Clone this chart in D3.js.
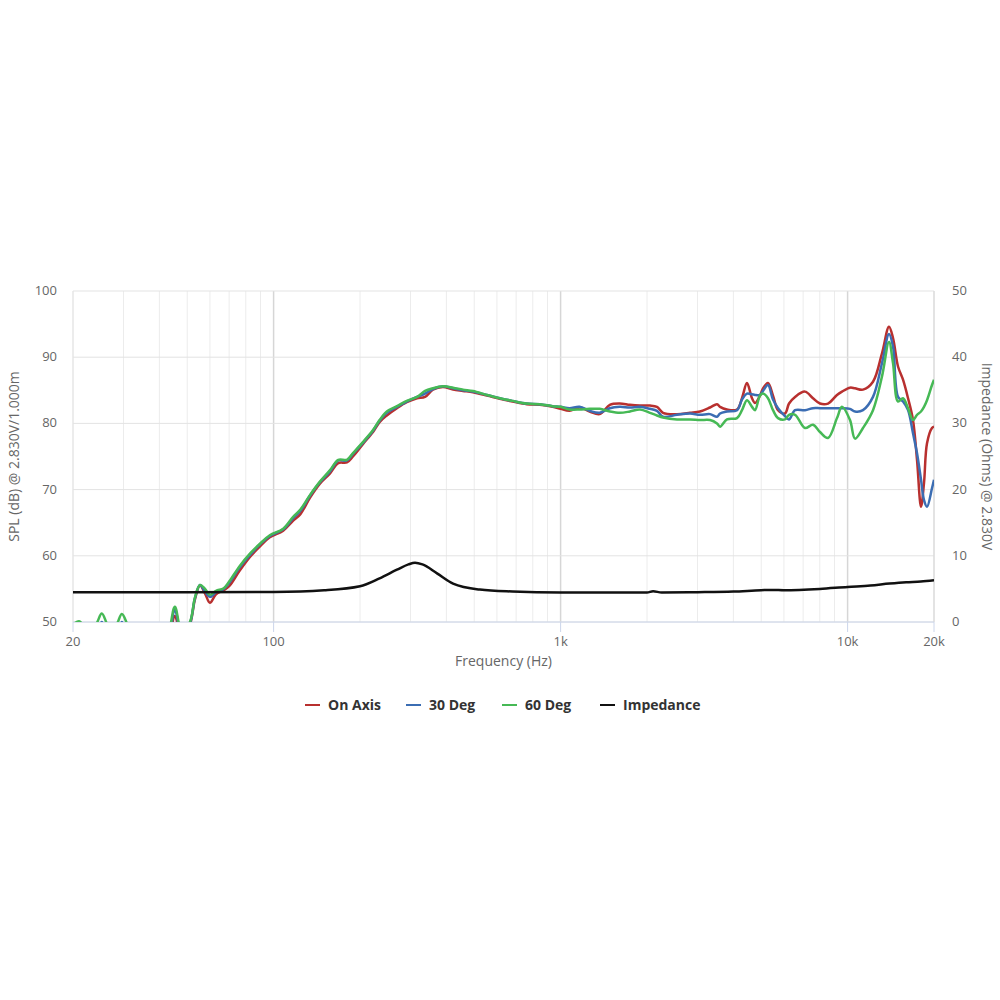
<!DOCTYPE html>
<html>
<head>
  <meta charset="utf-8">
  <title>Frequency Response</title>
  <script src="https://cdnjs.cloudflare.com/ajax/libs/d3/7.8.5/d3.min.js"></script>
  <style>
    body {
      margin: 0;
      background: #fff;
      font-family: "Open Sans", Arial, sans-serif;
    }
    .tick-label {
      fill: #666;
      font-size: 13px;
    }
    .axis-title {
      fill: #666;
      font-size: 14px;
    }
    .legend-text {
      fill: #333;
      font-size: 14px;
      font-weight: bold;
    }
  </style>
</head>
<body>
  <div id="chart"></div>
  <script>
    // SPL frequencies (Hz)
    const freqs = [20, 21, 22.2, 23.9, 25.2, 26.7, 28.2, 29.6, 31.1, 34.2, 38.6, 42.9, 45.3, 47.9, 51.1, 53.2,
      55.4, 57.7, 60, 63, 67, 70, 76, 83, 90, 97, 108, 117, 124, 134, 145, 157, 168, 180, 189, 205,
      222, 234, 248, 269, 291, 316, 337, 359, 389, 422, 457, 495, 554, 614, 680, 762, 846, 938,
      1000, 1074, 1164, 1262, 1368, 1484, 1608, 1744, 1890, 2048, 2166, 2274, 2544, 2824, 3060, 3316,
      3508, 3594, 3800, 4118, 4286, 4460, 4644, 4758, 4952, 5072, 5280, 5496, 5722, 6052, 6250, 6560,
      7104, 7576, 8012, 8544, 9184, 9560, 10194, 10612, 11312, 12260, 13178, 13940, 14394, 14986, 15598,
      16240, 16900, 17452, 18020, 18460, 18910, 19680, 20000];

    const onAxis = [47, 47.5, 46, 47, 49.5, 47, 47, 49.5, 47, 44, 42, 46.5, 50.9, 47.5, 49.6, 53.4,
      55.5, 54.3, 52.9, 54.2, 54.8, 55.4, 57.7, 59.9, 61.5, 62.8, 63.8, 65.3, 66.3, 68.8, 70.9, 72.4, 74.0, 74.1, 75.0, 76.9,
      78.7, 80.2, 81.2, 82.3, 83.2, 83.8, 84.0, 85.1, 85.5, 85.1, 84.9, 84.7, 84.2, 83.7, 83.3, 82.9, 82.8, 82.5,
      82.2, 81.9, 82.4, 81.8, 81.4, 82.8, 83.0, 82.8, 82.7, 82.7, 82.5, 81.6, 81.4, 81.6, 81.8, 82.4,
      82.9, 82.5, 82.1, 82.1, 83.8, 86.1, 83.8, 83.1, 84.2, 85.3, 86.1, 84.2, 82.0, 81.5, 83.0, 84.0,
      84.8, 83.8, 83.0, 83.0, 84.3, 84.8, 85.4, 85.3, 85.1, 86.3, 90.6, 94.6, 92.9, 88.6, 86.6,
      83.8, 80.5, 74.5, 67.4, 71.0, 77.0, 79.3, 79.5];

    const deg30 = [47.5, 48, 46.5, 47.5, 50, 47.5, 47.5, 50, 47.5, 44.5, 42.5, 47, 51.8, 48, 49.8, 53.6,
      55.6, 54.6, 53.8, 54.5, 55.0, 55.9, 58.2, 60.2, 61.8, 63.0, 64.0, 65.7, 66.8, 69.1, 71.1, 72.7, 74.4, 74.4, 75.4, 77.1,
      78.9, 80.4, 81.6, 82.5, 83.3, 84.0, 84.5, 85.2, 85.6, 85.3, 85.0, 84.8, 84.3, 83.8, 83.4, 83.0, 82.9, 82.6,
      82.5, 82.3, 82.5, 81.9, 81.6, 82.3, 82.5, 82.4, 82.5, 82.2, 81.9, 81.0, 81.3, 81.5, 81.3, 81.4,
      81.0, 81.5, 81.8, 82.0, 83.6, 84.5, 84.4, 84.3, 84.3, 84.9, 85.8, 83.6, 82.3, 81.1, 80.6, 82.0,
      82.0, 82.3, 82.3, 82.3, 82.3, 82.3, 82.2, 81.8, 82.0, 84.0, 89.1, 93.5, 91.6, 84.0, 83.3,
      82.0, 78.5, 75.5, 71.5, 68.4, 67.4, 70.2, 71.5];

    const deg60 = [49.6, 50.1, 49.2, 49.5, 51.3, 49.3, 49.5, 51.2, 49.4, 46, 44, 48, 52.3, 48.5, 50.0, 53.7,
      55.6, 55.0, 54.1, 54.7, 55.1, 56.1, 58.4, 60.4, 61.9, 63.1, 64.1, 65.9, 67.0, 69.2, 71.2, 72.9, 74.5, 74.5, 75.5, 77.2,
      79.0, 80.5, 81.8, 82.6, 83.4, 84.0, 84.9, 85.3, 85.6, 85.4, 85.1, 84.9, 84.3, 83.8, 83.4, 83.0, 82.9, 82.6,
      82.5, 82.1, 82.1, 82.2, 82.2, 81.8, 81.6, 81.8, 82.1, 81.6, 81.2, 80.9, 80.6, 80.6, 80.5, 80.5,
      80.0, 79.5, 80.6, 80.8, 82.0, 83.5, 82.5, 82.0, 84.2, 84.5, 83.8, 82.0, 80.8, 80.6, 81.3, 81.3,
      79.3, 79.8, 78.7, 77.8, 80.8, 82.5, 80.5, 77.7, 79.3, 82.0, 87.1, 92.3, 89.1, 83.3, 83.8,
      82.3, 80.5, 81.3, 81.8, 82.5, 83.5, 85.8, 86.6];

    // Impedance curve (Ohms)
    const impFreqs = [20, 50, 100, 150, 200, 234, 269, 295, 311, 330, 371, 422, 523, 680, 1000, 1500,
      2000, 2100, 2250, 3000, 4000, 5000, 5500, 6000, 8000, 10000, 12000, 14000, 16000, 18000, 20000];
    const impedance = [4.5, 4.5, 4.55, 4.8, 5.4, 6.6, 7.9, 8.7, 8.95, 8.7, 7.35, 5.8, 4.9, 4.6, 4.45, 4.45,
      4.45, 4.65, 4.45, 4.5, 4.6, 4.8, 4.85, 4.8, 5.0, 5.3, 5.5, 5.8, 6.0, 6.1, 6.3];

    const xTicks = [20, 100, 1000, 10000, 20000];
    const xTickLabels = ["20", "100", "1k", "10k", "20k"];
    const splTicks = [50, 60, 70, 80, 90, 100];
    const ohmTicks = [0, 10, 20, 30, 40, 50];

    const seriesNames = ["On Axis", "30 Deg", "60 Deg", "Impedance"];
    const seriesColors = ["#b8302f", "#3b6db3", "#46b955", "#111111"];

    const width = 1000, height = 1000;
    const plotLeft = 73, plotRight = 934, plotTop = 291, plotBottom = 622;

    const svg = d3.select("#chart").append("svg")
      .attr("width", width)
      .attr("height", height);

    const x = d3.scaleLog().domain([20, 20000]).range([plotLeft, plotRight]);
    const ySpl = d3.scaleLinear().domain([50, 100]).range([plotBottom, plotTop]);
    const yOhm = d3.scaleLinear().domain([0, 50]).range([plotBottom, plotTop]);

    // vertical grid: minor log ticks
    const minor = [];
    for (let dec = 10; dec <= 10000; dec *= 10) {
      for (let m = 1; m <= 9; m++) {
        const v = dec * m;
        if (v >= 20 && v <= 20000) minor.push(v);
      }
    }
    const majors = [100, 1000, 10000];
    svg.append("g").selectAll("line")
      .data(minor)
      .join("line")
      .attr("x1", d => x(d)).attr("x2", d => x(d))
      .attr("y1", plotTop).attr("y2", plotBottom)
      .attr("stroke", d => majors.includes(d) ? "#d6d6d6" : "#ececec")
      .attr("stroke-width", d => majors.includes(d) ? 1.5 : 1);

    // horizontal grid
    svg.append("g").selectAll("line")
      .data(splTicks)
      .join("line")
      .attr("x1", plotLeft).attr("x2", plotRight)
      .attr("y1", d => ySpl(d)).attr("y2", d => ySpl(d))
      .attr("stroke", "#e3e3e3")
      .attr("stroke-width", 1);

    // plot edges
    svg.append("line")
      .attr("x1", plotLeft).attr("x2", plotLeft).attr("y1", plotTop).attr("y2", plotBottom)
      .attr("stroke", "#e3e3e3");
    svg.append("line")
      .attr("x1", plotRight).attr("x2", plotRight).attr("y1", plotTop).attr("y2", plotBottom)
      .attr("stroke", "#dcdcdc").attr("stroke-width", 1.5);

    // x axis
    const xAxis = svg.append("g").attr("transform", `translate(0,${plotBottom})`);
    xAxis.append("line")
      .attr("x1", plotLeft).attr("x2", plotRight)
      .attr("stroke", "#ccd6eb");
    xAxis.selectAll(".tk")
      .data(xTicks)
      .join("line")
      .attr("class", "tk")
      .attr("x1", d => x(d)).attr("x2", d => x(d))
      .attr("y1", 0).attr("y2", 10)
      .attr("stroke", "#ccd6eb");
    xAxis.selectAll("text")
      .data(xTicks)
      .join("text")
      .attr("class", "tick-label")
      .attr("x", d => x(d))
      .attr("y", 24)
      .attr("text-anchor", "middle")
      .text((d, i) => xTickLabels[i]);

    // left axis labels
    svg.append("g").selectAll("text")
      .data(splTicks)
      .join("text")
      .attr("class", "tick-label")
      .attr("x", 57)
      .attr("y", d => ySpl(d) + 4)
      .attr("text-anchor", "end")
      .text(d => d);

    // right axis labels
    svg.append("g").selectAll("text")
      .data(ohmTicks)
      .join("text")
      .attr("class", "tick-label")
      .attr("x", 952)
      .attr("y", d => yOhm(d) + 4)
      .attr("text-anchor", "start")
      .text(d => d);

    // axis titles
    svg.append("text")
      .attr("class", "axis-title")
      .attr("x", (plotLeft + plotRight) / 2)
      .attr("y", 666)
      .attr("text-anchor", "middle")
      .text("Frequency (Hz)");

    svg.append("text")
      .attr("class", "axis-title")
      .attr("transform", `translate(19,${(plotTop + plotBottom) / 2}) rotate(-90)`)
      .attr("text-anchor", "middle")
      .text("SPL (dB) @ 2.830V/1.000m");

    svg.append("text")
      .attr("class", "axis-title")
      .attr("transform", `translate(982,${(plotTop + plotBottom) / 2}) rotate(90)`)
      .attr("text-anchor", "middle")
      .text("Impedance (Ohms) @ 2.830V");

    // clip
    svg.append("clipPath").attr("id", "plot-clip")
      .append("rect")
      .attr("x", plotLeft).attr("y", plotTop - 5)
      .attr("width", plotRight - plotLeft).attr("height", plotBottom - plotTop + 5);

    const plot = svg.append("g").attr("clip-path", "url(#plot-clip)");

    const splLine = d3.line()
      .x(d => x(d[0]))
      .y(d => ySpl(d[1]))
      .curve(d3.curveCatmullRom.alpha(0.5));

    const ohmLine = d3.line()
      .x(d => x(d[0]))
      .y(d => yOhm(d[1]))
      .curve(d3.curveMonotoneX);

    [onAxis, deg30, deg60].forEach((vals, i) => {
      plot.append("path")
        .datum(freqs.map((f, j) => [f, vals[j]]))
        .attr("fill", "none")
        .attr("stroke", seriesColors[i])
        .attr("stroke-width", 2.5)
        .attr("stroke-linejoin", "round")
        .attr("d", splLine);
    });

    plot.append("path")
      .datum(impFreqs.map((f, j) => [f, impedance[j]]))
      .attr("fill", "none")
      .attr("stroke", seriesColors[3])
      .attr("stroke-width", 2.5)
      .attr("d", ohmLine);

    // legend
    const legendX = [305, 406, 502, 600];
    const legend = svg.append("g").attr("transform", "translate(0,705)");
    seriesNames.forEach((name, i) => {
      legend.append("line")
        .attr("x1", legendX[i]).attr("x2", legendX[i] + 15)
        .attr("y1", 0).attr("y2", 0)
        .attr("stroke", seriesColors[i])
        .attr("stroke-width", 2);
      legend.append("text")
        .attr("class", "legend-text")
        .attr("x", legendX[i] + 23)
        .attr("y", 5)
        .text(name);
    });
  </script>
</body>
</html>
